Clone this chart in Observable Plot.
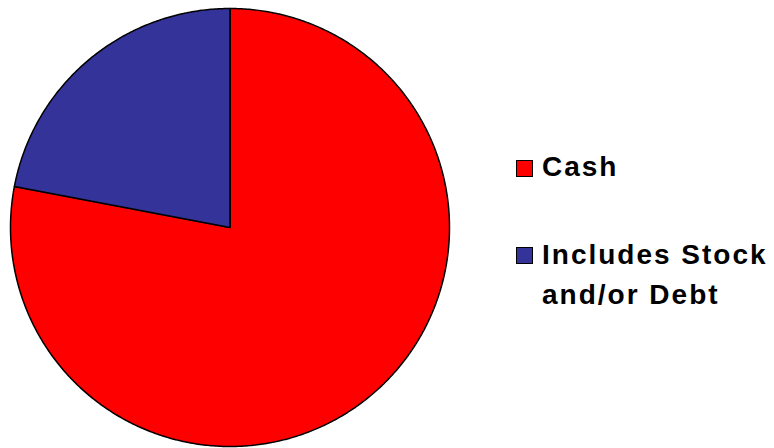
<!DOCTYPE html>
<html>
<head>
<meta charset="utf-8">
<script src="https://cdn.jsdelivr.net/npm/d3@7"></script>
<script src="https://cdn.jsdelivr.net/npm/@observablehq/plot@0.6"></script>
<style>
  html, body { margin: 0; padding: 0; background: #fff; }
  #wrap { position: relative; width: 774px; height: 448px; overflow: hidden; }
  #chart svg { display: block; }
  .lg-item { position: absolute; font-family: "Liberation Sans", Arial, sans-serif; font-weight: bold; font-size: 28px; letter-spacing: 2px; line-height: 40px; color: #000; white-space: pre; }
  .lg-swatch { position: absolute; width: 17px; height: 17px; box-sizing: border-box; border: 1.5px solid #000; }
</style>
</head>
<body>
<div id="wrap">
  <div id="chart"></div>
</div>
<script>
const categories = ["Cash", "Includes Stock and/or Debt"];
const shares = [78, 22];
const colors = ["#ff0000", "#333399"];
const legendLines = [["Cash"], ["Includes Stock", "and/or Debt"]];

const table = categories.map((c, i) => ({name: c, value: shares[i]}));
const arcs = d3.pie().sort(null).value(d => d.value)(table);

// build slice outlines (center -> arc -> center) in unit coordinates
const pts = [];
arcs.forEach(a => {
  const name = a.data.name;
  pts.push({name, x: 0, y: 0});
  const n = Math.max(2, Math.ceil((a.endAngle - a.startAngle) / (Math.PI / 360)));
  for (let k = 0; k <= n; k++) {
    const t = a.startAngle + (a.endAngle - a.startAngle) * k / n;
    pts.push({name, x: Math.sin(t), y: Math.cos(t)});
  }
  pts.push({name, x: 0, y: 0});
});

const chart = Plot.plot({
  width: 774,
  height: 448,
  margin: 0,
  x: {domain: [-1, 1], range: [10, 449], axis: null},
  y: {domain: [-1, 1], range: [446, 8], axis: null},
  color: {domain: categories, range: colors},
  marks: [
    Plot.line(pts, {x: "x", y: "y", z: "name", fill: "name", stroke: "#000", strokeWidth: 1.5, curve: "linear-closed"})
  ]
});
document.getElementById("chart").appendChild(chart);

const wrap = document.getElementById("wrap");
const itemTops = [147, 235];
const swatchTops = [160, 247];
categories.forEach((c, i) => {
  const sw = document.createElement("div");
  sw.className = "lg-swatch";
  sw.style.left = "516px";
  sw.style.top = swatchTops[i] + "px";
  sw.style.background = colors[i];
  wrap.appendChild(sw);
  const tx = document.createElement("div");
  tx.className = "lg-item";
  tx.style.left = "542px";
  tx.style.top = itemTops[i] + "px";
  tx.textContent = legendLines[i].join("\n");
  wrap.appendChild(tx);
});
</script>
</body>
</html>
